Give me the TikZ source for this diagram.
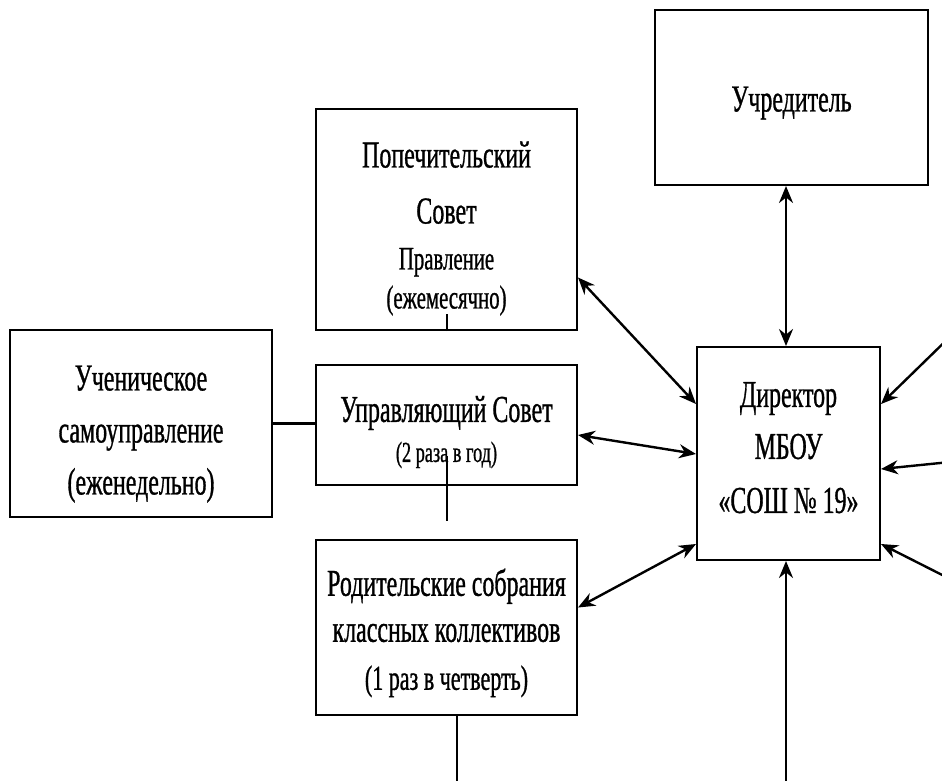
\documentclass[tikz,border=0pt]{standalone}
\usepackage{fontspec}
\setmainfont[FakeStretch=0.63,FakeBold=0.8]{Liberation Serif}
\usetikzlibrary{arrows.meta}
\newcommand{\midfs}{\fontsize{33}{56}\selectfont}
\newcommand{\smallfs}{\fontsize{29}{56}\selectfont}
\newcommand{\toppad}[1]{\rule{0pt}{#1}}

\begin{document}
\begin{tikzpicture}[x=1pt,y=-1pt,
  box/.style={draw,line width=2pt,align=center,inner sep=0pt,font=\fontsize{38}{56}\selectfont},
  arr/.style={line width=2.4pt,{Stealth[length=17pt,width=14pt]}-{Stealth[length=17pt,width=14pt]}},
  toarr/.style={line width=2.4pt,-{Stealth[length=17pt,width=14pt]}}]
\useasboundingbox (0,0) rectangle (942,780);
\clip (0,0) rectangle (942,780);
\node[box,minimum width=273pt,minimum height=175pt] (uchr) at (791.5,97.5) {\toppad{36pt}Учредитель};
\node[box,minimum width=261pt,minimum height=221pt] (pop) at (446.5,219.5) {\toppad{44pt}Попечительский\\Совет\\[-10pt]{\midfs Правление}\\[-17pt]{\midfs (ежемесячно)}};
\node[box,minimum width=262pt,minimum height=187pt] (uchen) at (141,423.5) {\toppad{46pt}Ученическое\\[-4pt]самоуправление\\[-4pt](еженедельно)};
\node[box,minimum width=261pt,minimum height=120pt] (upr) at (446.5,425) {\toppad{40pt}Управляющий Совет\\[-16pt]{\smallfs (2 раза в год)}};
\node[box,minimum width=261pt,minimum height=175pt] (rod) at (446.5,627.5) {\toppad{38pt}Родительские собрания\\[-10pt]классных коллективов\\[-8pt]{\fontsize{35}{56}\selectfont (1 раз в четверть)}};
\node[box,minimum width=183pt,minimum height=213pt] (dir) at (788.5,453.5) {Директор\\[-4pt]МБОУ\\[-2pt]«СОШ №~19»\rule[-12pt]{0pt}{12pt}};
\coordinate (bot) at (786,800);
\coordinate (r1) at (960,327);
\coordinate (r2) at (960,461);
\coordinate (r3) at (960,584);
\draw[arr] ([xshift=-2.5pt]dir.north) -- ([xshift=-2.5pt]dir.north |- uchr.south);
\draw[arr] ([yshift=-58pt]pop.east) -- ([yshift=-58pt]dir.north west);
\draw[arr] ([yshift=-10pt]upr.east) -- ([yshift=-108pt]dir.north west);
\draw[arr] ([yshift=20pt]rod.east) -- ([yshift=-198pt]dir.north west);
\draw[arr] (bot) -- (bot |- dir.south);
\draw[toarr] (r1) -- ([yshift=-58pt]dir.north east);
\draw[toarr] (r2) -- ([yshift=-123pt]dir.north east);
\draw[toarr] (r3) -- ([yshift=-198pt]dir.north east);
\draw[line width=3.5pt] (uchen.east) -- (uchen.east -| upr.west);
\draw[line width=2pt] (pop.south) -- ++(0,-17);
\draw[line width=2pt] ([yshift=30pt]upr.south) -- ([yshift=-35pt]upr.south);
\draw[line width=2pt] ([xshift=10pt]rod.south) -- ++(0,70);
\end{tikzpicture}
\end{document}
